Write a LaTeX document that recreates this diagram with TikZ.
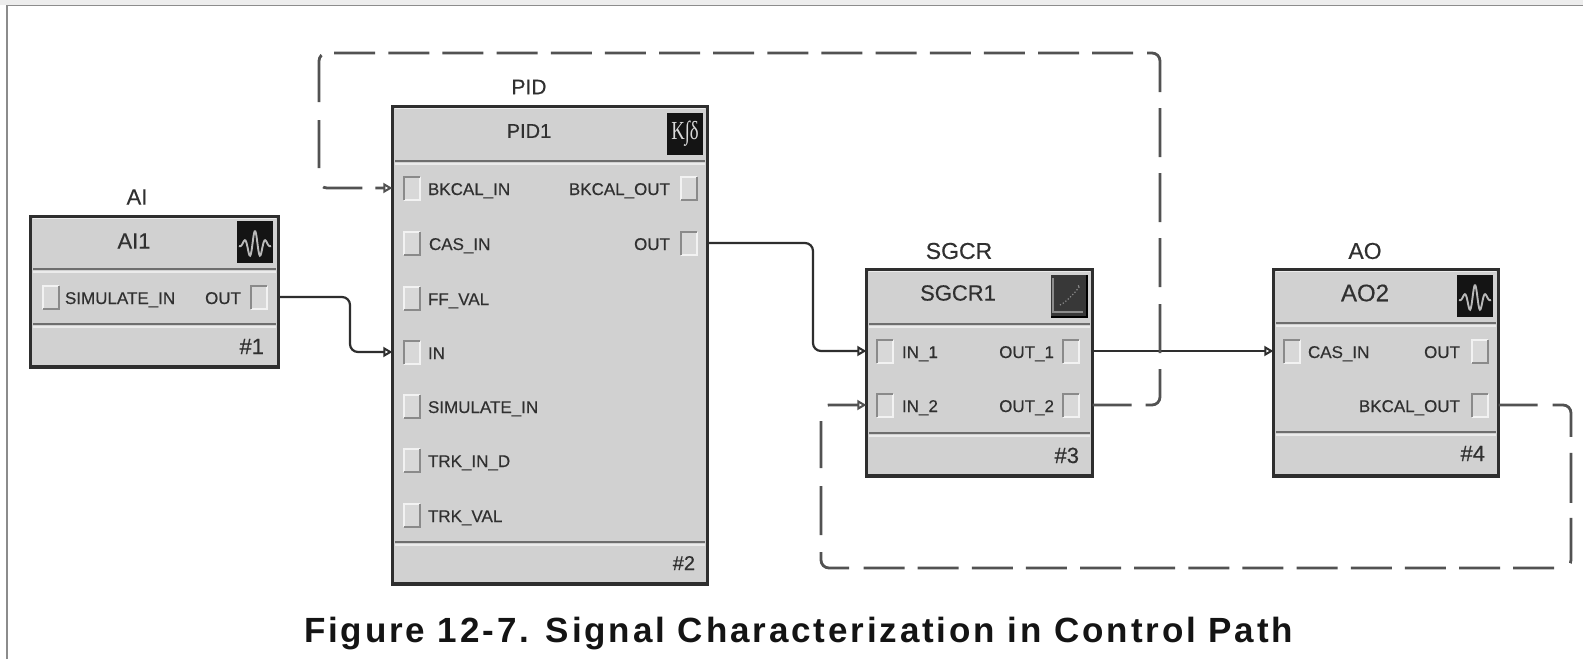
\documentclass[tikz,border=0pt]{standalone}
\usepackage{fontspec}
\setmainfont{Liberation Sans}[FakeBold=0.4]
\newfontfamily\capfont{Liberation Sans}[LetterSpace=8.2]
\newfontfamily\iconfont{Liberation Serif}
\usetikzlibrary{arrows.meta}
\definecolor{blockfill}{HTML}{D1D1D1}
\definecolor{edgedark}{HTML}{2E2E2E}
\definecolor{sepdark}{HTML}{6E6E6E}
\definecolor{seplight}{HTML}{EBEBEB}
\definecolor{portdark}{HTML}{8A8A8A}
\definecolor{portlight}{HTML}{F2F2F2}
\definecolor{inktext}{HTML}{303030}
\tikzset{
  x=1pt,y=-1pt,
  blockbox/.style={draw=edgedark,fill=blockfill,line width=2.6pt,inner sep=0pt,outer sep=0pt,rectangle},
  portbox/.style={inner sep=0pt,outer sep=0pt,minimum width=16pt,minimum height=23pt,fill=blockfill!85!white},
  iconbox/.style={inner sep=0pt,outer sep=0pt,minimum width=36pt,minimum height=42pt,fill=black!92},
  lbl/.style={inner sep=0pt,outer sep=0pt,text=inktext,font=\fontsize{17}{17}\selectfont},
  ttl/.style={inner sep=0pt,outer sep=0pt,text=inktext,font=\fontsize{22}{22}\selectfont},
  flow/.style={draw=edgedark,line width=2.2pt,rounded corners=8pt},
  flowdash/.style={draw=black!68,line width=2.8pt,rounded corners=8pt},
  tip/.style={-{Triangle[open,length=9pt,width=10pt,line width=2pt]}},
  looptop/.style={dash pattern=on 39pt off 14pt on 46.6pt off 16pt on 49pt off 17pt on 49pt off 16pt on 49pt off 16pt on 49pt off 16pt on 48.5pt off 14pt
    on 41pt off 13.14pt on 41pt off 13.14pt on 41pt off 13.14pt on 41pt off 13.14pt on 41pt off 13.14pt
    on 41pt off 13.14pt on 41pt off 13.14pt on 41pt off 13.14pt on 41pt off 13.14pt on 41pt off 13.14pt
    on 41pt off 13.14pt on 41pt off 13.14pt on 41pt off 13.14pt on 41pt off 13.14pt on 41pt off 13.14pt
    on 47.7pt off 18pt on 48pt off 20.3pt on 39.3pt off 13pt on 60pt off 100pt},
  loopbot/.style={dash pattern=on 39pt off 15pt on 46.6pt off 16pt on 50pt off 15pt on 45.4pt off 18.1pt
    on 41pt off 13.14pt on 41pt off 13.14pt on 41pt off 13.14pt on 41pt off 13.14pt on 41pt off 13.14pt
    on 41pt off 13.14pt on 41pt off 13.14pt on 41pt off 13.14pt on 41pt off 13.14pt on 41pt off 13.14pt
    on 41pt off 13.14pt on 41pt off 13.14pt on 41pt off 14.3pt
    on 40.6pt off 17pt on 49pt off 18pt on 47pt off 19.3pt on 60pt off 100pt},
}
% block: name, x0, y0, x1, y1
\newcommand\blockat[5]{%
  \node[blockbox,minimum width=#4pt-#2pt-2.6pt,minimum height=#5pt-#3pt-2.6pt] (#1) at ({(#2+#4)/2},{(#3+#5)/2}) {};
  \draw[edgedark,line width=4pt] (#2,#5-2) -- (#4,#5-2);
  \draw[seplight,line width=1.2pt] (#2+4,#3+3.5) -- (#4-4,#3+3.5);
}
% separator: x0, x1, y
\newcommand\sepat[3]{%
  \draw[sepdark,line width=1.8pt] (#1+4,#3) -- (#2-4,#3);
  \draw[seplight,line width=1.6pt] (#1+4,#3+3) -- (#2-4,#3+3);
}
% ports: name, cx, cy
\newcommand\sunken[3]{%
  \node[portbox] (#1) at (#2,#3) {};
  \draw[portlight,line width=2pt] (#1.south west) -- (#1.south east) -- (#1.north east);
  \draw[portdark,line width=2pt] (#1.south west) -- (#1.north west) -- (#1.north east);
}
\newcommand\raisedp[3]{%
  \node[portbox] (#1) at (#2,#3) {};
  \draw[portlight,line width=2pt] (#1.south west) -- (#1.north west) -- (#1.north east);
  \draw[portdark,line width=2pt] (#1.south west) -- (#1.south east) -- (#1.north east);
}
% wave icon glyph inside an icon node
\newcommand\waveicon[1]{%
  \draw[white!72!black,line width=1.9pt,smooth] plot[domain=-16:16,samples=50]
    ([shift={(\x,{-14*exp(-(\x/10)*(\x/10))*cos(\x*34)+3})}]#1.center);
}
\begin{document}
\begin{tikzpicture}
\useasboundingbox (0,0) rectangle (1583,659);
\fill[white] (0,0) rectangle (1583,659);
\fill[black!7] (0,0) rectangle (1583,5);
\draw[black!45,line width=1.4pt] (7,659) -- (7,5.5) -- (1583,5.5);

% AI block
\blockat{ai}{29}{215}{280}{369}
\sepat{29}{280}{269}
\sepat{29}{280}{324}
\node[iconbox] (aiicon) at (255,242) {};
\waveicon{aiicon}
\node[ttl] (ailabel) at (137,197) {AI};
\node[ttl] (aititle) at (134,241) {AI1};
\raisedp{aisim}{51}{297}
\sunken{aiout}{259}{297}
\node[lbl,anchor=base west] (aisimt) at (65,304) {SIMULATE\_IN};
\node[lbl,anchor=base east] (aioutt) at (241,304) {OUT};
\node[ttl,anchor=base east] (ainum) at (264,354) {\#1};

% PID block
\blockat{pid}{391}{105}{709}{586}
\sepat{391}{709}{161}
\sepat{391}{709}{542}
\node[iconbox,minimum height=42pt] (pidicon) at (685,134) {};
\node[inner sep=0pt,text=white!85!black,font=\iconfont\fontsize{26}{26}\selectfont,xscale=.72] (pidglyph) at (685,134) {K∫δ};
\node[ttl,font=\fontsize{21}{21}\selectfont] (pidlabel) at (529,87) {PID};
\node[ttl,font=\fontsize{20}{20}\selectfont] (pidtitle) at (529,131) {PID1};
\sunken{pidbk}{412}{188}
\raisedp{pidcas}{412}{243}
\raisedp{pidff}{412}{298}
\sunken{pidin}{412}{352}
\raisedp{pidsim}{412}{406}
\raisedp{pidtrk}{412}{460}
\raisedp{pidtv}{412}{515}
\raisedp{pidbo}{689}{188}
\sunken{pidout}{689}{243}
\node[lbl,anchor=base west] (tbk) at (428,195) {BKCAL\_IN};
\node[lbl,anchor=base west] (tcas) at (429,250) {CAS\_IN};
\node[lbl,anchor=base west] (tff) at (428,305) {FF\_VAL};
\node[lbl,anchor=base west] (tin) at (428,359) {IN};
\node[lbl,anchor=base west] (tsim) at (428,413) {SIMULATE\_IN};
\node[lbl,anchor=base west] (ttrk) at (428,467) {TRK\_IN\_D};
\node[lbl,anchor=base west] (ttv) at (428,522) {TRK\_VAL};
\node[lbl,anchor=base east] (tbo) at (670,195) {BKCAL\_OUT};
\node[lbl,anchor=base east] (tpo) at (670,250) {OUT};
\node[ttl,font=\fontsize{20}{20}\selectfont,anchor=base east] (pidnum) at (695,570) {\#2};

% SGCR block
\blockat{sg}{865}{268}{1094}{478}
\sepat{865}{1094}{324}
\sepat{865}{1094}{433}
\node[iconbox,fill=black!78] (sgicon) at (1069,296) {};
\draw[black!45,line width=1.4pt] (sgicon.north west) ++(2,3) -- ++(0,34) -- ++(30,0);
\draw[black,line width=2.5pt] (sgicon.south west) -- (sgicon.south east) -- (sgicon.north east);
\draw[black!45,line width=1.2pt,dotted] (sgicon.center) ++(-9,9) .. controls ++(8,-3) and ++(10,-8) .. ++(17,-18);
\node[ttl,font=\fontsize{23}{23}\selectfont] (sglabel) at (959,251) {SGCR};
\node[ttl] (sgtitle) at (958,293) {SGCR1};
\sunken{sgi1}{885}{351}
\sunken{sgi2}{885}{405}
\sunken{sgo1}{1071}{351}
\sunken{sgo2}{1071}{405}
\node[lbl,anchor=base west] (ti1) at (902,358) {IN\_1};
\node[lbl,anchor=base west] (ti2) at (902,412) {IN\_2};
\node[lbl,anchor=base east] (to1) at (1054,358) {OUT\_1};
\node[lbl,anchor=base east] (to2) at (1054,412) {OUT\_2};
\node[ttl,anchor=base east] (sgnum) at (1079,463) {\#3};

% AO block
\blockat{ao}{1272}{268}{1500}{478}
\sepat{1272}{1500}{323}
\sepat{1272}{1500}{432}
\node[iconbox] (aoicon) at (1475,296) {};
\waveicon{aoicon}
\node[ttl,font=\fontsize{23}{23}\selectfont] (aolabel) at (1365,251) {AO};
\node[ttl,font=\fontsize{24}{24}\selectfont] (aotitle) at (1365,293) {AO2};
\sunken{aoc}{1292}{351}
\raisedp{aoo}{1480}{351}
\sunken{aob}{1480}{405}
\node[lbl,anchor=base west] (tac) at (1308,358) {CAS\_IN};
\node[lbl,anchor=base east] (tao) at (1460,358) {OUT};
\node[lbl,anchor=base east] (tab) at (1460,412) {BKCAL\_OUT};
\node[ttl,anchor=base east] (aonum) at (1485,461) {\#4};

% routing points
\coordinate (r1) at (350,296);
\coordinate (r2) at (813,243);
\coordinate (r3) at (1160,53);
\coordinate (r4) at (319,53);
\coordinate (r5) at (1571,568);
\coordinate (r6) at (821,568);

% connectors
\draw[flow,tip] (aiout -| ai.east) -- (r1 |- aiout) -- (r1 |- pidin) -- (pidin -| pid.west);
\draw[flow,tip] (pidout -| pid.east) -- (r2 |- pidout) -- (r2 |- sgi1) -- (sgi1 -| sg.west);
\draw[flow,tip] (sgo1 -| sg.east) -- (aoc -| ao.west);
\draw[flowdash,looptop,tip] (sgo2 -| sg.east) -- (r3 |- sgo2) -- (r3) -- (r4) -- (r4 |- pidbk) -- (pidbk -| pid.west);
\draw[flowdash,loopbot,tip] (aob -| ao.east) -- (r5 |- aob) -- (r5) -- (r6) -- (r6 |- sgi2) -- (sgi2 -| sg.west);

% caption
\node[inner sep=0pt,outer sep=0pt,anchor=base west,text=black!92,font=\capfont\bfseries\fontsize{35}{35}\selectfont] (caption) at (304,642) {Figure 12-7. Signal Characterization in Control Path};
\end{tikzpicture}
\end{document}
